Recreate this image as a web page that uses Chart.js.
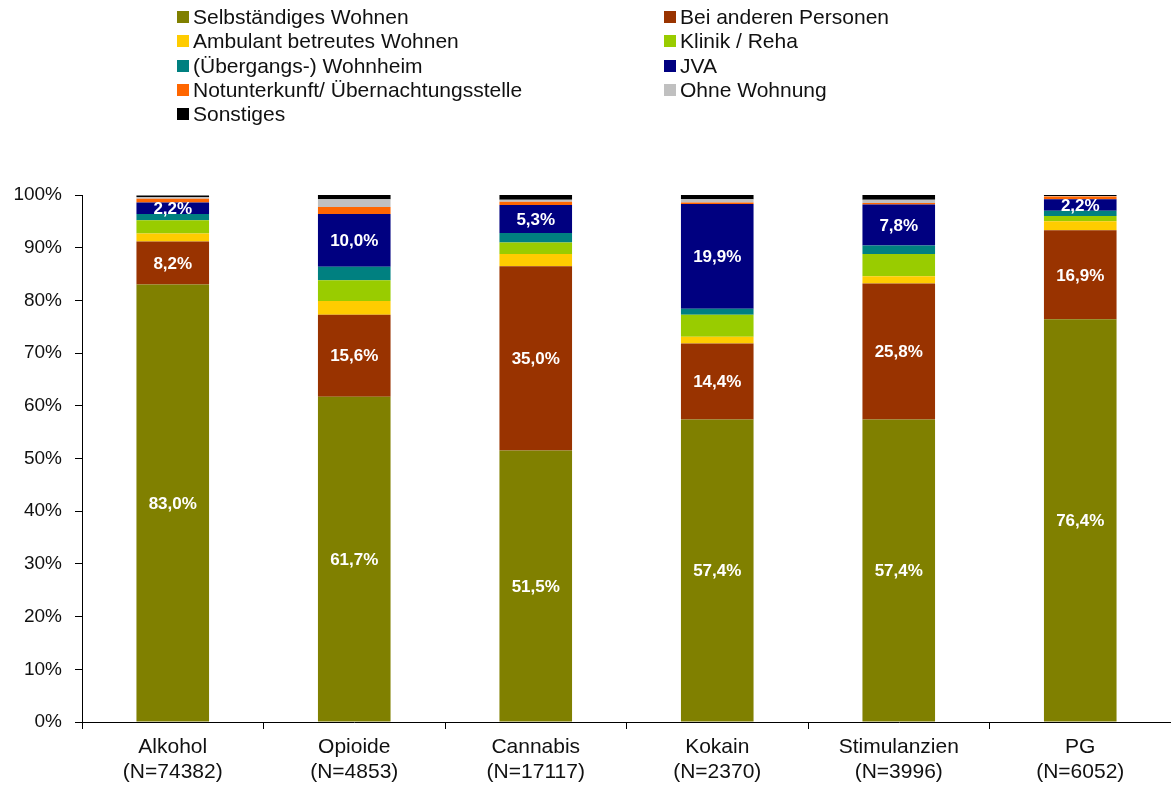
<!DOCTYPE html>
<html>
<head>
<meta charset="utf-8">
<script src="https://cdn.jsdelivr.net/npm/chart.js@4"></script>
<style>
  body { margin: 0; background: #fff; font-family: "Liberation Sans", Arial, sans-serif; }
  #wrap { position: relative; width: 1171px; height: 787px; }
  #chart { position: absolute; left: 0; top: 0; }
  #legend { position: absolute; left: 0; top: 0; width: 1171px; height: 130px; }
  .item { position: absolute; display: flex; align-items: center; font-size: 21px; color: #111; line-height: 24px; white-space: nowrap; }
  .box { display: inline-block; width: 12px; height: 12px; margin-right: 4px; }
</style>
</head>
<body>
<div id="wrap">
  <canvas id="chart" width="1171" height="787"></canvas>
  <div id="legend"></div>
</div>
<script>
const categories = [
    ["Alkohol", "(N=74382)"],
    ["Opioide", "(N=4853)"],
    ["Cannabis", "(N=17117)"],
    ["Kokain", "(N=2370)"],
    ["Stimulanzien", "(N=3996)"],
    ["PG", "(N=6052)"],
];

const series_names = [
    "Selbständiges Wohnen",
    "Bei anderen Personen",
    "Ambulant betreutes Wohnen",
    "Klinik / Reha",
    "(Übergangs-) Wohnheim",
    "JVA",
    "Notunterkunft/ Übernachtungsstelle",
    "Ohne Wohnung",
    "Sonstiges",
];

const series_colors = [
    "#808000", "#993300", "#FFCC00", "#99CC00", "#008080",
    "#000080", "#FF6600", "#C0C0C0", "#000000",
];

// values in %, one array per series
const selbst = [83.0, 61.7, 51.5, 57.4, 57.4, 76.4];
const bei_anderen = [8.2, 15.6, 35.0, 14.4, 25.8, 16.9];
const ambulant = [1.5, 2.6, 2.3, 1.3, 1.4, 1.7];
const klinik = [2.5, 3.9, 2.2, 4.2, 4.2, 1.0];
const wohnheim = [1.2, 2.6, 1.8, 1.1, 1.6, 1.0];
const jva = [2.2, 10.0, 5.3, 19.9, 7.8, 2.2];
const notunterkunft = [0.7, 1.3, 0.6, 0.3, 0.3, 0.5];
const ohne_wohnung = [0.3, 1.5, 0.4, 0.6, 0.6, 0.1];
const sonstiges = [0.3, 0.8, 0.9, 0.8, 0.9, 0.3];

const y_ticks = [0, 10, 20, 30, 40, 50, 60, 70, 80, 90, 100];

const series_values = [selbst, bei_anderen, ambulant, klinik, wohnheim, jva, notunterkunft, ohne_wohnung, sonstiges];
// only these series get a value printed on the bar
const labelled_series = [0, 1, 5];

const FONT = "'Liberation Sans', Arial, sans-serif";

// html legend, two columns like the original
const legendEl = document.getElementById("legend");
series_names.forEach((name, i) => {
    const col = i % 2;
    const row = Math.floor(i / 2);
    const div = document.createElement("div");
    div.className = "item";
    div.style.left = (col === 0 ? 177 : 664) + "px";
    div.style.top = (5 + row * 24.3) + "px";
    div.innerHTML = '<span class="box" style="background:' + series_colors[i] + '"></span>' + name;
    legendEl.appendChild(div);
});

const barLabels = {
    id: "barLabels",
    afterDatasetsDraw(chart) {
        const ctx = chart.ctx;
        ctx.save();
        ctx.font = "bold 17px " + FONT;
        ctx.fillStyle = "#fff";
        ctx.textAlign = "center";
        ctx.textBaseline = "middle";
        labelled_series.forEach((di) => {
            const meta = chart.getDatasetMeta(di);
            meta.data.forEach((bar, i) => {
                const v = chart.data.datasets[di].data[i];
                const txt = v.toFixed(1).replace(".", ",") + "%";
                ctx.fillText(txt, bar.x, (bar.y + bar.base) / 2 + 1);
            });
        });
        ctx.restore();
    }
};

const chart = new Chart(document.getElementById("chart").getContext("2d"), {
    type: "bar",
    data: {
        labels: categories,
        datasets: series_names.map((name, i) => ({
            label: name,
            data: series_values[i],
            backgroundColor: series_colors[i],
            borderWidth: 0,
            categoryPercentage: 1.0,
            barPercentage: 0.4,
        })),
    },
    options: {
        responsive: false,
        animation: false,
        layout: { padding: { top: 195, left: 0, right: 0, bottom: 3 } },
        plugins: {
            legend: { display: false },
            tooltip: { enabled: false },
        },
        scales: {
            x: {
                stacked: true,
                afterFit(scale) { scale.height = 62; },
                grid: {
                    offset: true,
                    drawOnChartArea: false,
                    drawTicks: true,
                    tickLength: 7,
                    color: "#000",
                },
                border: { color: "#000", width: 1 },
                ticks: {
                    color: "#111",
                    font: { family: FONT, size: 21, lineHeight: 1.17 },
                    padding: 6,
                    maxRotation: 0,
                },
            },
            y: {
                stacked: true,
                min: 0,
                max: 100,
                afterFit(scale) { scale.width = 82; },
                afterBuildTicks(scale) {
                    scale.ticks = y_ticks.map((v) => ({ value: v }));
                },
                grid: {
                    drawOnChartArea: false,
                    drawTicks: true,
                    tickLength: 7,
                    color: "#000",
                },
                border: { color: "#000", width: 1 },
                ticks: {
                    color: "#111",
                    font: { family: FONT, size: 19 },
                    padding: 13,
                    callback: (v) => v + "%",
                },
            },
        },
    },
    plugins: [barLabels],
});
</script>
</body>
</html>
